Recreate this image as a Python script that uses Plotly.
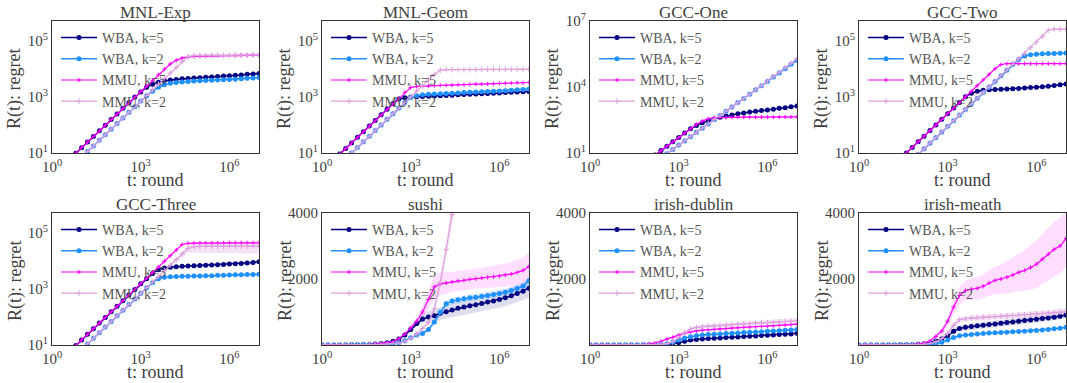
import plotly.graph_objects as go

W, H = 1067, 383
FONT = "Liberation Serif"
TXT = "#404040"

# ---------------- data ----------------
log_t = [0.0, 0.2, 0.4, 0.6, 0.8, 1.0, 1.2, 1.4, 1.6, 1.8, 2.0, 2.2, 2.4, 2.6, 2.8, 3.0, 3.2, 3.4,
         3.6, 3.8, 4.0, 4.2, 4.4, 4.6, 4.8, 5.0, 5.2, 5.4, 5.6, 5.8, 6.0, 6.2, 6.4, 6.6, 6.8, 7.0]

series_names = ["WBA, k=5", "WBA, k=2", "MMU, k=5", "MMU, k=2"]
series_colors = ["#000080", "#1E90FF", "#FF00FF", "#DDA0DD"]
band_colors = ["rgba(0,0,128,0.13)", "rgba(30,144,255,0.15)", "rgba(255,0,255,0.13)", "rgba(221,160,221,0.3)"]

panel_titles = ["MNL-Exp", "MNL-Geom", "GCC-One", "GCC-Two",
                "GCC-Three", "sushi", "irish-dublin", "irish-meath"]

# log10 of regret (log-scale panels)
mnl_exp_wba5 = [0.19, 0.39, 0.59, 0.79, 0.99, 1.19, 1.39, 1.59, 1.79, 1.99, 2.19, 2.39, 2.59, 2.79, 2.99, 3.17, 3.34, 3.45, 3.52, 3.57, 3.6, 3.62, 3.64, 3.65, 3.67, 3.68, 3.7, 3.71, 3.72, 3.74, 3.75, 3.77, 3.78, 3.8, 3.81, 3.83]
mnl_exp_wba2 = [-0.15, 0.05, 0.25, 0.45, 0.65, 0.85, 1.05, 1.25, 1.45, 1.65, 1.85, 2.05, 2.25, 2.45, 2.65, 2.85, 3.04, 3.2, 3.34, 3.43, 3.48, 3.51, 3.53, 3.55, 3.56, 3.57, 3.58, 3.59, 3.6, 3.61, 3.62, 3.63, 3.64, 3.66, 3.67, 3.69]
mnl_exp_mmu5 = [0.19, 0.39, 0.59, 0.79, 0.99, 1.19, 1.39, 1.59, 1.79, 1.99, 2.19, 2.39, 2.59, 2.79, 2.99, 3.19, 3.39, 3.59, 3.79, 3.99, 4.17, 4.3, 4.38, 4.42, 4.44, 4.45, 4.45, 4.46, 4.46, 4.47, 4.47, 4.47, 4.48, 4.48, 4.49, 4.49]
mnl_exp_mmu2 = [-0.15, 0.05, 0.25, 0.45, 0.65, 0.85, 1.05, 1.25, 1.45, 1.65, 1.85, 2.05, 2.25, 2.45, 2.65, 2.85, 3.05, 3.25, 3.45, 3.65, 3.85, 4.05, 4.25, 4.43, 4.47, 4.47, 4.47, 4.48, 4.48, 4.48, 4.48, 4.49, 4.49, 4.49, 4.49, 4.49]

mnl_geom_wba5 = [0.36, 0.56, 0.76, 0.96, 1.16, 1.36, 1.56, 1.76, 1.96, 2.16, 2.36, 2.56, 2.76, 2.92, 2.97, 2.99, 3.0, 3.01, 3.02, 3.03, 3.04, 3.05, 3.06, 3.07, 3.08, 3.09, 3.1, 3.11, 3.12, 3.13, 3.14, 3.15, 3.16, 3.17, 3.18, 3.19]
mnl_geom_wba2 = [0.0, 0.2, 0.4, 0.6, 0.8, 1.0, 1.2, 1.4, 1.6, 1.8, 2.0, 2.2, 2.4, 2.6, 2.8, 2.98, 3.04, 3.07, 3.09, 3.1, 3.11, 3.12, 3.13, 3.14, 3.15, 3.16, 3.17, 3.18, 3.19, 3.2, 3.21, 3.22, 3.23, 3.25, 3.26, 3.28]
mnl_geom_mmu5 = [0.36, 0.56, 0.76, 0.96, 1.16, 1.36, 1.56, 1.76, 1.96, 2.16, 2.36, 2.56, 2.76, 2.96, 3.16, 3.33, 3.37, 3.38, 3.39, 3.4, 3.41, 3.41, 3.42, 3.43, 3.43, 3.44, 3.45, 3.45, 3.46, 3.47, 3.48, 3.48, 3.49, 3.5, 3.5, 3.51]
mnl_geom_mmu2 = [0.0, 0.2, 0.4, 0.6, 0.8, 1.0, 1.2, 1.4, 1.6, 1.8, 2.0, 2.2, 2.4, 2.6, 2.8, 3.0, 3.2, 3.4, 3.6, 3.8, 3.95, 3.97, 3.97, 3.97, 3.97, 3.97, 3.97, 3.98, 3.98, 3.98, 3.98, 3.98, 3.98, 3.98, 3.98, 3.98]

gcc1_wba5 = [-1.29, -1.09, -0.89, -0.69, -0.49, -0.29, -0.09, 0.11, 0.31, 0.51, 0.71, 0.91, 1.11, 1.31, 1.51, 1.71, 1.91, 2.1, 2.25, 2.37, 2.47, 2.55, 2.62, 2.68, 2.73, 2.78, 2.82, 2.86, 2.9, 2.93, 2.96, 2.99, 3.03, 3.06, 3.1, 3.14]
gcc1_wba2 = [-1.54, -1.34, -1.15, -0.96, -0.77, -0.57, -0.38, -0.19, 0.01, 0.2, 0.39, 0.59, 0.78, 0.97, 1.16, 1.36, 1.55, 1.74, 1.94, 2.13, 2.32, 2.52, 2.71, 2.9, 3.09, 3.29, 3.48, 3.67, 3.87, 4.06, 4.25, 4.45, 4.64, 4.83, 5.03, 5.22]
gcc1_mmu5 = [-1.29, -1.09, -0.89, -0.69, -0.49, -0.29, -0.09, 0.11, 0.31, 0.51, 0.71, 0.91, 1.11, 1.31, 1.51, 1.71, 1.91, 2.1, 2.3, 2.45, 2.56, 2.61, 2.62, 2.62, 2.62, 2.63, 2.63, 2.63, 2.63, 2.63, 2.63, 2.63, 2.64, 2.64, 2.64, 2.64]
gcc1_mmu2 = [-1.54, -1.34, -1.15, -0.96, -0.77, -0.57, -0.38, -0.19, 0.01, 0.2, 0.39, 0.59, 0.78, 0.97, 1.16, 1.36, 1.55, 1.74, 1.94, 2.13, 2.32, 2.52, 2.71, 2.9, 3.09, 3.29, 3.48, 3.67, 3.87, 4.06, 4.27, 4.47, 4.67, 4.87, 5.08, 5.3]

gcc2_wba5 = [-0.6, -0.4, -0.2, 0.0, 0.2, 0.4, 0.6, 0.8, 1.0, 1.2, 1.4, 1.6, 1.8, 2.0, 2.2, 2.4, 2.6, 2.8, 3.0, 3.13, 3.2, 3.23, 3.25, 3.26, 3.27, 3.28, 3.29, 3.3, 3.31, 3.33, 3.34, 3.36, 3.38, 3.4, 3.43, 3.46]
gcc2_wba2 = [-1.05, -0.85, -0.65, -0.45, -0.25, -0.05, 0.15, 0.35, 0.55, 0.75, 0.95, 1.15, 1.35, 1.55, 1.75, 1.95, 2.15, 2.35, 2.55, 2.75, 2.95, 3.15, 3.35, 3.55, 3.75, 3.95, 4.15, 4.33, 4.45, 4.5, 4.52, 4.53, 4.54, 4.54, 4.55, 4.56]
gcc2_mmu5 = [-0.6, -0.4, -0.2, 0.0, 0.2, 0.4, 0.6, 0.8, 1.0, 1.2, 1.4, 1.6, 1.8, 2.0, 2.2, 2.4, 2.6, 2.8, 3.0, 3.2, 3.4, 3.6, 3.8, 4.0, 4.15, 4.18, 4.18, 4.18, 4.18, 4.18, 4.18, 4.18, 4.18, 4.18, 4.18, 4.18]
gcc2_mmu2 = [-1.05, -0.85, -0.65, -0.45, -0.25, -0.05, 0.15, 0.35, 0.55, 0.75, 0.95, 1.15, 1.35, 1.55, 1.75, 1.95, 2.15, 2.35, 2.55, 2.75, 2.95, 3.15, 3.35, 3.55, 3.75, 3.95, 4.15, 4.35, 4.55, 4.75, 4.95, 5.15, 5.37, 5.41, 5.41, 5.41]

gcc3_wba5 = [0.18, 0.38, 0.58, 0.78, 0.98, 1.18, 1.38, 1.58, 1.78, 1.98, 2.18, 2.38, 2.58, 2.78, 2.98, 3.18, 3.36, 3.55, 3.68, 3.74, 3.77, 3.79, 3.8, 3.81, 3.82, 3.83, 3.84, 3.85, 3.86, 3.87, 3.88, 3.89, 3.9, 3.92, 3.94, 3.96]
gcc3_wba2 = [-0.16, 0.04, 0.24, 0.44, 0.64, 0.84, 1.04, 1.24, 1.44, 1.64, 1.84, 2.04, 2.24, 2.44, 2.64, 2.84, 3.04, 3.22, 3.36, 3.41, 3.43, 3.44, 3.45, 3.45, 3.46, 3.46, 3.47, 3.47, 3.48, 3.48, 3.49, 3.5, 3.5, 3.51, 3.51, 3.52]
gcc3_mmu5 = [0.18, 0.38, 0.58, 0.78, 0.98, 1.18, 1.38, 1.58, 1.78, 1.98, 2.18, 2.38, 2.58, 2.78, 2.98, 3.18, 3.38, 3.58, 3.78, 3.98, 4.18, 4.38, 4.58, 4.62, 4.63, 4.63, 4.63, 4.63, 4.63, 4.63, 4.64, 4.64, 4.64, 4.64, 4.64, 4.64]
gcc3_mmu2 = [-0.16, 0.04, 0.24, 0.44, 0.64, 0.84, 1.04, 1.24, 1.44, 1.64, 1.84, 2.04, 2.24, 2.44, 2.64, 2.84, 3.04, 3.24, 3.44, 3.64, 3.84, 4.04, 4.24, 4.44, 4.5, 4.52, 4.52, 4.52, 4.52, 4.52, 4.52, 4.52, 4.52, 4.52, 4.52, 4.52]

# relative spread (fraction of regret) for the log-scale panels
mnl_exp_wba5_sd = [0, 0, 0, 0, 0, 0, 0, 0, 0, 0, 0, 0, 0, 0, 0, 0.03, 0.05, 0.07, 0.08, 0.09, 0.1, 0.1, 0.1, 0.1, 0.1, 0.1, 0.1, 0.1, 0.1, 0.1, 0.1, 0.1, 0.1, 0.1, 0.1, 0.1]
mnl_exp_wba2_sd = [0, 0, 0, 0, 0, 0, 0, 0, 0, 0, 0, 0, 0, 0, 0, 0, 0.02, 0.04, 0.05, 0.06, 0.07, 0.07, 0.07, 0.07, 0.07, 0.07, 0.07, 0.07, 0.07, 0.07, 0.07, 0.07, 0.07, 0.07, 0.07, 0.07]
mnl_exp_mmu5_sd = [0, 0, 0, 0, 0, 0, 0, 0, 0, 0, 0, 0, 0, 0, 0, 0, 0, 0, 0, 0, 0, 0.02, 0.03, 0.04, 0.05, 0.05, 0.05, 0.05, 0.05, 0.05, 0.05, 0.05, 0.05, 0.05, 0.05, 0.05]
mnl_exp_mmu2_sd = [0, 0, 0, 0, 0, 0, 0, 0, 0, 0, 0, 0, 0, 0, 0, 0, 0, 0, 0, 0, 0, 0, 0.03, 0.06, 0.1, 0.12, 0.14, 0.14, 0.14, 0.14, 0.14, 0.14, 0.14, 0.14, 0.14, 0.14]
gcc3_wba5_sd = [0, 0, 0, 0, 0, 0, 0, 0, 0, 0, 0, 0, 0, 0, 0, 0, 0.02, 0.04, 0.05, 0.06, 0.06, 0.06, 0.06, 0.06, 0.06, 0.06, 0.06, 0.06, 0.06, 0.06, 0.06, 0.06, 0.06, 0.06, 0.06, 0.06]
gcc3_wba2_sd = [0, 0, 0, 0, 0, 0, 0, 0, 0, 0, 0, 0, 0, 0, 0, 0, 0, 0.02, 0.04, 0.05, 0.05, 0.05, 0.05, 0.05, 0.05, 0.05, 0.05, 0.05, 0.05, 0.05, 0.05, 0.05, 0.05, 0.05, 0.05, 0.05]
gcc3_mmu5_sd = [0, 0, 0, 0, 0, 0, 0, 0, 0, 0, 0, 0, 0, 0, 0, 0, 0, 0, 0, 0, 0, 0, 0.02, 0.04, 0.05, 0.05, 0.05, 0.05, 0.05, 0.05, 0.05, 0.05, 0.05, 0.05, 0.05, 0.05]
gcc3_mmu2_sd = [0, 0, 0, 0, 0, 0, 0, 0, 0, 0, 0, 0, 0, 0, 0, 0, 0, 0, 0, 0, 0.05, 0.1, 0.2, 0.3, 0.4, 0.45, 0.45, 0.45, 0.45, 0.45, 0.45, 0.45, 0.45, 0.45, 0.45, 0.45]

# regret (linear-scale panels)
sushi_wba5 = [0, 0, 1, 2, 3, 5, 8, 12, 18, 28, 45, 70, 110, 180, 300, 470, 650, 790, 850, 890, 960, 1010, 1060, 1110, 1150, 1190, 1220, 1260, 1300, 1330, 1380, 1430, 1490, 1560, 1630, 1720]
sushi_wba2 = [0, 0, 1, 1, 2, 3, 5, 7, 10, 14, 20, 30, 45, 70, 130, 220, 300, 350, 470, 700, 990, 1250, 1330, 1370, 1400, 1430, 1450, 1480, 1500, 1530, 1560, 1600, 1650, 1710, 1780, 1950]
sushi_mmu5 = [0, 0, 1, 2, 3, 5, 8, 12, 18, 28, 45, 70, 100, 190, 330, 520, 720, 1000, 1380, 1760, 1850, 1880, 1910, 1940, 1960, 1990, 2010, 2030, 2050, 2070, 2090, 2120, 2150, 2200, 2260, 2380]
sushi_mmu2 = [0, 0, 1, 1, 2, 3, 5, 7, 10, 14, 20, 30, 45, 60, 110, 200, 330, 500, 680, 1100, 1900, 2900, 3950, 5000, 6100, 7200, 8300, 9400, 10500, 11600, 12700, 13800, 14900, 16000, 17100, 18200]
sushi_wba5_sd = [0, 0, 0, 0, 0, 0, 1, 1, 2, 3, 5, 8, 12, 20, 35, 60, 100, 140, 170, 190, 200, 205, 210, 215, 220, 225, 230, 235, 240, 245, 250, 255, 260, 265, 270, 280]
sushi_wba2_sd = [0, 0, 0, 0, 0, 0, 0, 1, 1, 2, 3, 4, 6, 9, 14, 22, 35, 50, 70, 90, 110, 110, 100, 100, 100, 100, 100, 100, 100, 100, 105, 110, 115, 120, 125, 130]
sushi_mmu5_sd = [0, 0, 0, 0, 0, 1, 1, 2, 3, 4, 6, 9, 14, 25, 45, 70, 120, 200, 300, 380, 350, 320, 300, 300, 300, 300, 300, 310, 320, 330, 340, 350, 365, 380, 400, 430]
sushi_mmu2_sd = [0, 0, 0, 0, 0, 0, 0, 1, 1, 1, 2, 3, 4, 6, 10, 18, 30, 45, 60, 90, 150, 230, 310, 400, 490, 580, 660, 750, 840, 930, 1020, 1100, 1190, 1280, 1370, 1460]

dublin_wba5 = [0, 0, 0, 0, 0, 1, 1, 2, 3, 4, 6, 8, 10, 25, 45, 70, 110, 150, 170, 185, 195, 205, 215, 225, 235, 245, 255, 265, 275, 285, 295, 305, 315, 325, 335, 355]
dublin_wba2 = [0, 0, 0, 0, 0, 1, 1, 2, 3, 4, 5, 7, 10, 30, 80, 150, 210, 250, 280, 300, 315, 325, 335, 345, 355, 365, 375, 385, 395, 405, 415, 425, 435, 445, 455, 470]
dublin_mmu5 = [0, 0, 0, 0, 1, 2, 3, 5, 8, 15, 30, 60, 110, 180, 230, 300, 360, 400, 430, 450, 465, 475, 490, 500, 515, 525, 535, 545, 555, 565, 575, 585, 595, 605, 615, 630]
dublin_mmu2 = [0, 0, 0, 0, 0, 1, 1, 2, 3, 5, 8, 12, 20, 40, 100, 230, 380, 480, 530, 555, 570, 585, 595, 605, 620, 630, 640, 650, 660, 670, 680, 690, 700, 710, 720, 735]
dublin_wba5_sd = [0, 0, 0, 0, 0, 0, 0, 0, 0, 1, 1, 2, 3, 5, 8, 10, 12, 14, 15, 15, 15, 15, 15, 15, 15, 15, 15, 15, 15, 15, 15, 15, 15, 15, 15, 15]
dublin_wba2_sd = [0, 0, 0, 0, 0, 0, 0, 0, 0, 1, 1, 2, 3, 5, 8, 12, 15, 18, 20, 20, 20, 20, 20, 20, 20, 20, 20, 20, 20, 20, 20, 20, 20, 20, 20, 20]
dublin_mmu5_sd = [0, 0, 0, 0, 0, 0, 1, 1, 2, 3, 5, 8, 12, 18, 22, 25, 25, 25, 25, 25, 25, 25, 25, 25, 25, 25, 25, 25, 25, 25, 25, 25, 25, 25, 25, 25]
dublin_mmu2_sd = [0, 0, 0, 0, 0, 0, 0, 1, 1, 1, 2, 3, 4, 8, 15, 30, 45, 55, 60, 60, 60, 60, 60, 60, 62, 62, 64, 64, 66, 66, 68, 68, 70, 70, 72, 75]

meath_wba5 = [0, 0, 0, 0, 1, 2, 3, 4, 6, 10, 20, 40, 70, 120, 190, 280, 420, 500, 540, 560, 580, 600, 620, 640, 660, 680, 700, 720, 740, 760, 780, 800, 820, 840, 870, 910]
meath_wba2 = [0, 0, 0, 0, 0, 1, 1, 2, 3, 5, 8, 12, 18, 30, 80, 150, 230, 280, 300, 320, 335, 350, 360, 370, 380, 390, 400, 410, 420, 430, 440, 455, 470, 490, 510, 535]
meath_mmu5 = [0, 0, 0, 0, 1, 2, 3, 5, 8, 15, 30, 60, 120, 260, 420, 720, 1150, 1500, 1650, 1690, 1720, 1780, 1880, 1960, 2000, 2050, 2120, 2200, 2260, 2350, 2450, 2600, 2750, 2900, 3000, 3230]
meath_mmu2 = [0, 0, 0, 0, 0, 1, 1, 2, 3, 6, 10, 20, 45, 100, 200, 350, 600, 770, 800, 815, 830, 845, 855, 865, 875, 885, 895, 905, 915, 925, 940, 955, 965, 980, 995, 1010]
meath_wba5_sd = [0, 0, 0, 0, 0, 0, 1, 1, 1, 2, 3, 6, 10, 20, 35, 50, 70, 90, 100, 100, 100, 100, 100, 100, 100, 100, 100, 100, 100, 100, 100, 100, 100, 100, 100, 100]
meath_wba2_sd = [0, 0, 0, 0, 0, 0, 0, 0, 1, 1, 2, 3, 5, 8, 15, 22, 28, 30, 30, 30, 30, 30, 30, 30, 30, 30, 30, 30, 30, 30, 32, 34, 36, 38, 40, 42]
meath_mmu5_sd = [0, 0, 0, 0, 0, 1, 1, 2, 3, 5, 8, 15, 30, 60, 100, 150, 220, 270, 300, 320, 340, 360, 390, 420, 450, 490, 530, 570, 620, 670, 720, 760, 800, 830, 850, 860]
meath_mmu2_sd = [0, 0, 0, 0, 0, 0, 0, 1, 1, 1, 2, 4, 8, 15, 30, 50, 70, 80, 80, 80, 80, 80, 80, 80, 80, 80, 80, 80, 85, 85, 85, 90, 90, 95, 95, 100]

panels = [
    dict(scale="log", yrange=[1, 5.7], yexp=[1, 3, 5],
         data=[mnl_exp_wba5, mnl_exp_wba2, mnl_exp_mmu5, mnl_exp_mmu2],
         sd=[mnl_exp_wba5_sd, mnl_exp_wba2_sd, mnl_exp_mmu5_sd, mnl_exp_mmu2_sd]),
    dict(scale="log", yrange=[1, 5.7], yexp=[1, 3, 5],
         data=[mnl_geom_wba5, mnl_geom_wba2, mnl_geom_mmu5, mnl_geom_mmu2], sd=None),
    dict(scale="log", yrange=[1, 7], yexp=[1, 4, 7],
         data=[gcc1_wba5, gcc1_wba2, gcc1_mmu5, gcc1_mmu2], sd=None),
    dict(scale="log", yrange=[1, 5.7], yexp=[1, 3, 5],
         data=[gcc2_wba5, gcc2_wba2, gcc2_mmu5, gcc2_mmu2], sd=None),
    dict(scale="log", yrange=[1, 5.7], yexp=[1, 3, 5],
         data=[gcc3_wba5, gcc3_wba2, gcc3_mmu5, gcc3_mmu2],
         sd=[gcc3_wba5_sd, gcc3_wba2_sd, gcc3_mmu5_sd, gcc3_mmu2_sd]),
    dict(scale="linear", yrange=[0, 4000], yticks=[2000, 4000],
         data=[sushi_wba5, sushi_wba2, sushi_mmu5, sushi_mmu2],
         sd=[sushi_wba5_sd, sushi_wba2_sd, sushi_mmu5_sd, sushi_mmu2_sd]),
    dict(scale="linear", yrange=[0, 4000], yticks=[2000, 4000],
         data=[dublin_wba5, dublin_wba2, dublin_mmu5, dublin_mmu2],
         sd=[dublin_wba5_sd, dublin_wba2_sd, dublin_mmu5_sd, dublin_mmu2_sd]),
    dict(scale="linear", yrange=[0, 4000], yticks=[2000, 4000],
         data=[meath_wba5, meath_wba2, meath_mmu5, meath_mmu2],
         sd=[meath_wba5_sd, meath_wba2_sd, meath_mmu5_sd, meath_mmu2_sd]),
]

for pi, p in enumerate(panels):
    arrs = list(p["data"]) + (list(p["sd"]) if p["sd"] else [])
    for ai, a in enumerate(arrs):
        if len(a) != len(log_t):
            raise ValueError(f"panel {pi} array {ai} has length {len(a)}")

# ---------------- layout geometry (pixels) ----------------
col_left = [52, 322, 590, 859]
row_top = [21, 213]
PW, PH = 207, 132

t_vals = [10 ** v for v in log_t]

marker_styles = [
    dict(symbol="circle", size=5),
    dict(symbol="circle", size=5),
    dict(symbol="cross-thin", size=3, line=dict(width=1, color=series_colors[2])),
    dict(symbol="cross-thin", size=4, line=dict(width=1, color=series_colors[3])),
]
line_widths = [1.5, 1.5, 1.2, 1.2]

fig = go.Figure()
annotations = []
layout_axes = {}

for i, p in enumerate(panels):
    r, c = divmod(i, 4)
    left, top = col_left[c], row_top[r]
    sfx = "" if i == 0 else str(i + 1)
    xa, ya = "x" + sfx, "y" + sfx
    leg = "legend" + sfx

    if p["scale"] == "log":
        means = [[10 ** v for v in s] for s in p["data"]]
    else:
        means = [list(s) for s in p["data"]]

    # bands
    if p["sd"]:
        for k in range(4):
            m, s = means[k], p["sd"][k]
            if p["scale"] == "log":
                up = [a * (1 + b) for a, b in zip(m, s)]
                lo = [a * (1 - b) for a, b in zip(m, s)]
            else:
                up = [a + b for a, b in zip(m, s)]
                lo = [a - b for a, b in zip(m, s)]
            fig.add_trace(go.Scatter(
                x=t_vals + t_vals[::-1], y=up + lo[::-1], fill="toself",
                fillcolor=band_colors[k], line=dict(width=0), mode="lines",
                showlegend=False, hoverinfo="skip", xaxis=xa, yaxis=ya))

    for k in range(4):
        mk = dict(marker_styles[k])
        mk["color"] = series_colors[k]
        fig.add_trace(go.Scatter(
            x=t_vals, y=means[k], mode="lines+markers", name=series_names[k],
            line=dict(color=series_colors[k], width=line_widths[k]),
            marker=mk, xaxis=xa, yaxis=ya, legend=leg))

    x0 = left / W
    x1 = min((left + PW) / W, 1.0)
    y0 = 1 - (top + PH) / H
    y1 = 1 - top / H

    axis_common = dict(showline=True, mirror=True, linecolor="#333333", linewidth=1,
                       showgrid=False, zeroline=False, ticks="", automargin=False,
                       tickfont=dict(family=FONT, size=15, color=TXT))
    layout_axes["xaxis" + sfx] = dict(
        axis_common, domain=[x0, x1], anchor=ya, type="log", range=[0, 7],
        tickvals=[1, 1e3, 1e6],
        ticktext=["10<sup>0</sup>", "10<sup>3</sup>", "10<sup>6</sup>"])
    if p["scale"] == "log":
        layout_axes["yaxis" + sfx] = dict(
            axis_common, domain=[y0, y1], anchor=xa, type="log", range=p["yrange"],
            tickvals=[10 ** e for e in p["yexp"]],
            ticktext=[f"10<sup>{e}</sup>" for e in p["yexp"]])
    else:
        layout_axes["yaxis" + sfx] = dict(
            axis_common, domain=[y0, y1], anchor=xa, type="linear", range=p["yrange"],
            tickvals=p["yticks"], ticktext=[str(v) for v in p["yticks"]])

    layout_axes[leg] = dict(
        x=(left + 4) / W, y=1 - (top + 1) / H, xanchor="left", yanchor="top",
        bgcolor="rgba(0,0,0,0)", borderwidth=0, itemwidth=36, tracegroupgap=0,
        font=dict(family=FONT, size=14, color="#555555"))

    cx = (left + PW / 2) / W
    annotations.append(dict(text=panel_titles[i], x=cx, y=1 - (top - 9) / H,
                            xref="paper", yref="paper", showarrow=False,
                            xanchor="center", yanchor="middle",
                            font=dict(family=FONT, size=17, color=TXT)))
    annotations.append(dict(text="t: round", x=cx, y=1 - (top + PH + 27) / H,
                            xref="paper", yref="paper", showarrow=False,
                            xanchor="center", yanchor="middle",
                            font=dict(family=FONT, size=18, color=TXT)))
    annotations.append(dict(text="R(t): regret", x=(left - 37) / W, y=1 - (top + 68) / H,
                            xref="paper", yref="paper", showarrow=False, textangle=-90,
                            xanchor="center", yanchor="middle",
                            font=dict(family=FONT, size=18, color=TXT)))

fig.update_layout(
    width=W, height=H, margin=dict(l=0, r=0, t=0, b=0, autoexpand=False),
    paper_bgcolor="white", plot_bgcolor="white",
    font=dict(family=FONT, color=TXT),
    annotations=annotations, **layout_axes)

fig.write_html("out.html", config={"displayModeBar": False},
               post_script="document.body.style.margin='0px';document.body.style.padding='0px';document.body.style.overflow='hidden';")
